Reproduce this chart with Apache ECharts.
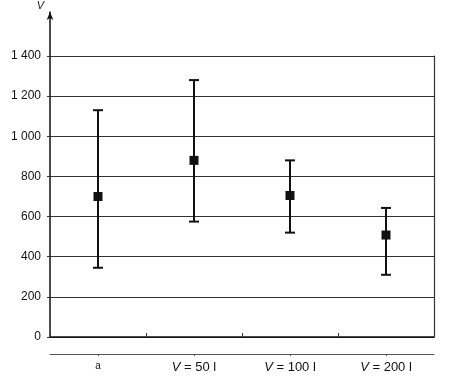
<!DOCTYPE html>
<html>
<head>
<meta charset="utf-8">
<script src="https://cdn.jsdelivr.net/npm/echarts@6/dist/echarts.min.js"></script>
<style>html,body{margin:0;padding:0;background:#fff;}#c{width:451px;height:378px;}</style>
</head>
<body>
<div id="c"></div>
<script>
const categories = ['a', 'V = 50 l', 'V = 100 l', 'V = 200 l'];
const means = [700, 880, 705, 508];
const lows = [345, 575, 520, 310];
const highs = [1130, 1280, 880, 643];
const yTicks = [0, 200, 400, 600, 800, 1000, 1200, 1400];

const chart = echarts.init(document.getElementById('c'));
const font = '"Liberation Sans", Arial, sans-serif';
const ink = '#111';

const option = {
  animation: false,
  backgroundColor: '#fff',
  grid: [
    { left: 50, right: 17, top: 56, bottom: 41 },
    { left: 50, width: 10, top: 12, bottom: 41 }
  ],
  xAxis: [
    {
      gridIndex: 0, type: 'category', data: categories, boundaryGap: true,
      axisLine: { show: true, lineStyle: { color: ink, width: 1.5 } },
      axisTick: { show: true, inside: true, length: 4, lineStyle: { color: '#333' } },
      axisLabel: { show: false },
      splitLine: { show: false }
    },
    {
      gridIndex: 0, type: 'category', data: categories, position: 'bottom', offset: 17,
      axisLine: { show: true, onZero: false, lineStyle: { color: '#555', width: 1 } },
      axisTick: { show: true, alignWithLabel: true, length: 2, lineStyle: { color: '#555' } },
      axisLabel: {
        show: true, margin: 7, color: '#111', fontFamily: font, fontSize: 13,
        formatter: function (v) {
          if (v.charAt(0) === 'V') return '{i|V}' + v.slice(1);
          return '{s|' + v + '}';
        },
        rich: {
          i: { fontStyle: 'italic', fontFamily: font, fontSize: 13, color: '#111' },
          s: { fontFamily: font, fontSize: 10, color: '#111' }
        }
      }
    },
    { gridIndex: 1, type: 'value', show: false, min: 0, max: 1 }
  ],
  yAxis: [
    {
      gridIndex: 0, type: 'value', min: 0, max: 1400, interval: 200,
      axisLine: { show: false },
      axisTick: { show: true, length: 3, lineStyle: { color: '#333' } },
      axisLabel: {
        margin: 9, color: '#111', fontFamily: font, fontSize: 12,
        formatter: function (v) {
          return v >= 1000 ? Math.floor(v / 1000) + ' ' + String(v % 1000).padStart(3, '0') : String(v);
        }
      },
      splitLine: { show: true, lineStyle: { color: '#333', width: 1 } }
    },
    {
      gridIndex: 0, type: 'value', min: 0, max: 1400, position: 'right',
      axisLine: { show: true, lineStyle: { color: '#333', width: 1.2 } },
      axisTick: { show: false }, axisLabel: { show: false }, splitLine: { show: false }
    },
    {
      gridIndex: 1, type: 'value', min: 0, max: 1, position: 'left',
      name: 'V', nameLocation: 'end', nameGap: 1,
      nameTextStyle: { fontStyle: 'italic', fontFamily: font, fontSize: 11, color: '#222', align: 'right', padding: [0, 6, 0, 0] },
      axisLine: { show: true, symbol: ['none', 'arrow'], symbolSize: [5, 8], lineStyle: { color: ink, width: 1.5 } },
      axisTick: { show: false }, axisLabel: { show: false }, splitLine: { show: false }
    }
  ],
  series: [
    {
      type: 'custom', xAxisIndex: 0, yAxisIndex: 0,
      data: categories.map(function (c, i) { return [i, lows[i], highs[i], means[i]]; }),
      renderItem: function (params, api) {
        const x = api.value(0);
        const pLo = api.coord([x, api.value(1)]);
        const pHi = api.coord([x, api.value(2)]);
        const pM = api.coord([x, api.value(3)]);
        const cap = 5, half = 4.5;
        const st = { stroke: ink, lineWidth: 2 };
        return {
          type: 'group',
          children: [
            { type: 'line', shape: { x1: pLo[0], y1: pLo[1], x2: pHi[0], y2: pHi[1] }, style: st },
            { type: 'line', shape: { x1: pHi[0] - cap, y1: pHi[1], x2: pHi[0] + cap, y2: pHi[1] }, style: st },
            { type: 'line', shape: { x1: pLo[0] - cap, y1: pLo[1], x2: pLo[0] + cap, y2: pLo[1] }, style: st },
            { type: 'rect', shape: { x: pM[0] - half, y: pM[1] - half, width: 2 * half, height: 2 * half }, style: { fill: ink } }
          ]
        };
      }
    }
  ]
};
chart.setOption(option);
</script>
</body>
</html>
